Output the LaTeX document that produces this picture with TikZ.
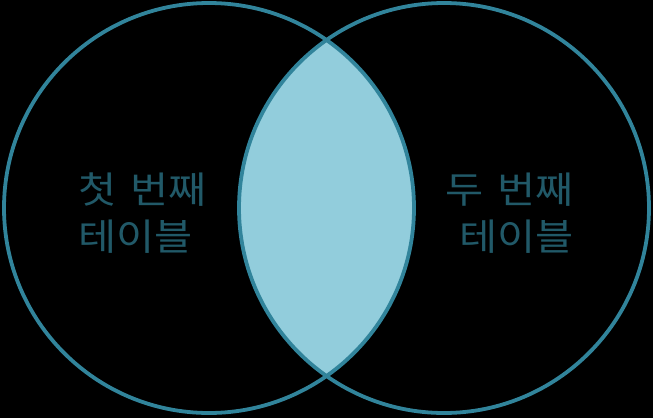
\documentclass[tikz,border=0pt]{standalone}
\usepackage{fontspec}
\newfontfamily\kr[FakeStretch=1.12]{Noto Sans CJK KR}
\definecolor{ringc}{HTML}{31849B}
\definecolor{fillc}{HTML}{92CDDC}
\definecolor{txtc}{HTML}{215968}
\newcommand{\wsp}{\hspace{14pt}}
\begin{document}
\begin{tikzpicture}[x=1pt,y=-1pt,
  ring/.style={draw=ringc,line width=3.8pt},
  lbl/.style={text=txtc,font=\kr\fontsize{37}{47}\selectfont,inner sep=0pt}]
\fill[black] (0,0) rectangle (653,418);
\useasboundingbox (0,0) rectangle (653,418);
\begin{scope}
\clip (209,208) circle[radius=205];
\fill[fillc] (444,208) circle[radius=205];
\end{scope}
\draw[ring] (209,208) circle[radius=205] coordinate (lc);
\draw[ring] (444,208) circle[radius=205] coordinate (rc);
\node[lbl,align=left,anchor=west] (t1) at (78,213) {첫\wsp 번째\\테이블};
\node[lbl,align=right,anchor=east] (t2) at (574,213) {두\wsp 번째\\테이블};
\end{tikzpicture}
\end{document}
